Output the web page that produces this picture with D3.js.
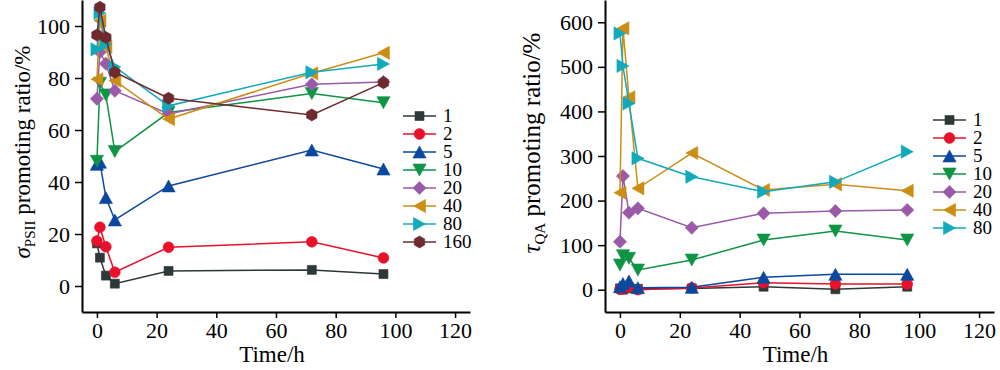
<!DOCTYPE html>
<html>
<head>
<meta charset="utf-8">
<script src="https://cdn.jsdelivr.net/npm/d3@7"></script>
<style>
body { margin: 0; background: #fff; }
svg text { font-family: "Liberation Serif", "Times New Roman", serif; fill: #000; }
.axis path, .axis line { stroke: #000; }
</style>
</head>
<body>
<svg id="chart" width="1000" height="370"></svg>
<script>
// sampling times (h)
var timesA = [0, 1, 3, 6, 24, 72, 96];
var timesB = [0, 1, 3, 6, 24, 48, 72, 96];

// concentrations (legend labels)
var labelsA = ['1', '2', '5', '10', '20', '40', '80', '160'];
var labelsB = ['1', '2', '5', '10', '20', '40', '80'];

// sigma PSII promoting ratio (%), one array per concentration
var sig1   = [16.4, 10.9, 4.0, 0.9, 5.8, 6.2, 4.6];
var sig2   = [17.3, 22.6, 15.1, 5.3, 14.9, 17.0, 10.8];
var sig5   = [46.8, 47.6, 34.0, 25.4, 38.5, 52.3, 45.0];
var sig10  = [48.0, 78.0, 73.5, 51.7, 66.7, 74.0, 70.5];
var sig20  = [72.0, 90.0, 85.5, 75.1, 66.2, 77.6, 78.5];
var sig40  = [79.5, 102.0, 92.0, 79.0, 64.2, 81.8, 89.7];
var sig80  = [91.0, 105.0, 93.0, 84.3, 69.3, 82.2, 85.4];
var sig160 = [96.5, 107.2, 95.6, 82.2, 72.2, 65.8, 78.2];

// tau QA promoting ratio (%)
var tau1  = [3, 0, 3, 2, 3, 6.7, 1, 6.7];
var tau2  = [1, 2, 6.7, 0, 4, 15.7, 12.8, 12.8];
var tau5  = [6.7, 14, 19.5, 4.5, 5.4, 27.8, 34.5, 34.5];
var tau10 = [55.4, 76.3, 70.4, 44.2, 66.6, 111.5, 131.7, 111.5];
var tau20 = [107.7, 255, 172.8, 182.6, 139, 171.4, 176.6, 178.8];
var tau40 = [217.6, 586.5, 431.7, 227.5, 306.7, 223.7, 236.5, 222];
var tau80 = [575, 502, 418, 294.8, 253.5, 220, 242, 309.6];

var xTicks = [0, 20, 40, 60, 80, 100, 120];
var yTicksA = [0, 20, 40, 60, 80, 100];
var yTicksB = [0, 100, 200, 300, 400, 500, 600];

var colors = ['#2e3838', '#e8102a', '#0a48a0', '#0d9444', '#9a5aa8', '#cc8d14', '#12aabb', '#6e2a2e'];
var shapes = ['square', 'circle', 'up', 'down', 'diamond', 'left', 'right', 'hex'];

function markerPath(type) {
    var r;
    switch (type) {
        case 'square': r = 4.5; return 'M' + (-r) + ',' + (-r) + 'H' + r + 'V' + r + 'H' + (-r) + 'Z';
        case 'circle': r = 5.4; return 'M' + r + ',0A' + r + ',' + r + ' 0 1 1 ' + (-r) + ',0A' + r + ',' + r + ' 0 1 1 ' + r + ',0Z';
        case 'up': r = 6; return 'M0,' + (-r) + 'L' + (r * 1.1) + ',' + r + 'L' + (-r * 1.1) + ',' + r + 'Z';
        case 'down': r = 6; return 'M0,' + r + 'L' + (r * 1.1) + ',' + (-r) + 'L' + (-r * 1.1) + ',' + (-r) + 'Z';
        case 'left': r = 6; return 'M' + (-r) + ',0L' + r + ',' + (-r * 1.1) + 'L' + r + ',' + (r * 1.1) + 'Z';
        case 'right': r = 6; return 'M' + r + ',0L' + (-r) + ',' + (-r * 1.1) + 'L' + (-r) + ',' + (r * 1.1) + 'Z';
        case 'diamond': r = 6.6; return 'M0,' + (-r) + 'L' + r + ',0L0,' + r + 'L' + (-r) + ',0Z';
        case 'hex':
            r = 6;
            var pts = d3.range(6).map(function(i) {
                var a = Math.PI / 3 * i - Math.PI / 2;
                return [Math.cos(a) * r, Math.sin(a) * r];
            });
            return 'M' + pts.join('L') + 'Z';
    }
}

var svg = d3.select('#chart');

var styleAxis = function(a) {
    a.attr('font-family', null).attr('font-size', null);
    a.select('.domain').attr('stroke-width', 2);
    a.selectAll('.tick line').attr('stroke-width', 1.5);
    a.selectAll('text').style('font-size', '22px');
};

var panel = function(opts) {
    var xscale = d3.scaleLinear().domain([-5, 125]).range(opts.xRange);
    var yscale = d3.scaleLinear().domain(opts.yDomain).range([312, 0]);
    return {
        draw: function(elem) {
            var g = elem.append('g');
            g.append('g').attr('class', 'axis').attr('transform', 'translate(0,312)')
                .call(d3.axisBottom(xscale).tickValues(xTicks).tickSize(6).tickPadding(4).tickSizeOuter(0))
                .call(styleAxis);
            g.append('g').attr('class', 'axis').attr('transform', 'translate(' + opts.xRange[0] + ',0)')
                .call(d3.axisLeft(yscale).tickValues(opts.yTicks).tickSize(7).tickPadding(5).tickSizeOuter(0))
                .call(styleAxis);
            g.append('text').attr('x', (xscale(0) + xscale(120)) / 2 - 4).attr('y', 362)
                .attr('text-anchor', 'middle').style('font-size', '23px').text('Time/h');

            var title = g.append('text')
                .attr('transform', 'translate(' + opts.titleX + ',' + opts.titleY + ') rotate(-90)')
                .attr('text-anchor', 'middle').style('font-size', opts.titleSize + 'px');
            title.append('tspan').style('font-style', 'italic').text(opts.symbol);
            title.append('tspan').attr('dy', 5).style('font-size', '15px').text(opts.sub);
            title.append('tspan').attr('dy', -5).text(opts.rest);

            var line = d3.line()
                .x(function(d) { return xscale(d[0]); })
                .y(function(d) { return yscale(d[1]); });

            opts.series.forEach(function(vals, i) {
                var pts = opts.times.map(function(t, j) { return [t, vals[j]]; });
                var s = g.append('g');
                s.append('path').attr('d', line(pts)).attr('fill', 'none')
                    .attr('stroke', colors[i]).attr('stroke-width', 1.5);
                s.selectAll('path.m').data(pts).enter().append('path').attr('class', 'm')
                    .attr('transform', function(d) { return 'translate(' + xscale(d[0]) + ',' + yscale(d[1]) + ')'; })
                    .attr('d', markerPath(shapes[i]))
                    .attr('fill', colors[i]).attr('stroke', colors[i]).attr('stroke-width', 0.6);
            });

            var lg = g.append('g');
            opts.labels.forEach(function(lab, i) {
                var y = opts.legendY + i * 18;
                lg.append('line').attr('x1', opts.legendX).attr('x2', opts.legendX + 33)
                    .attr('y1', y).attr('y2', y).attr('stroke', colors[i]).attr('stroke-width', 1.5);
                lg.append('path').attr('transform', 'translate(' + (opts.legendX + 16.5) + ',' + y + ')')
                    .attr('d', markerPath(shapes[i])).attr('fill', colors[i]).attr('stroke', colors[i]).attr('stroke-width', 0.6);
                lg.append('text').attr('x', opts.legendX + 40).attr('y', y + 6)
                    .style('font-size', '19px').text(lab);
            });
        }
    };
};

var p1 = panel({
    xRange: [82, 470], yDomain: [-10, 110], yTicks: yTicksA, times: timesA,
    series: [sig1, sig2, sig5, sig10, sig20, sig40, sig80, sig160], labels: labelsA,
    titleX: 30, titleY: 152, titleSize: 23, symbol: 'σ', sub: 'PSII', rest: ' promoting ratio/%',
    legendX: 403, legendY: 116
});
p1.draw(svg);

var p2 = panel({
    xRange: [605, 994], yDomain: [-50, 650], yTicks: yTicksB, times: timesB,
    series: [tau1, tau2, tau5, tau10, tau20, tau40, tau80], labels: labelsB,
    titleX: 540, titleY: 143, titleSize: 25, symbol: 'τ', sub: 'QA', rest: ' promoting  ratio/%',
    legendX: 933, legendY: 120
});
p2.draw(svg);
</script>
</body>
</html>
